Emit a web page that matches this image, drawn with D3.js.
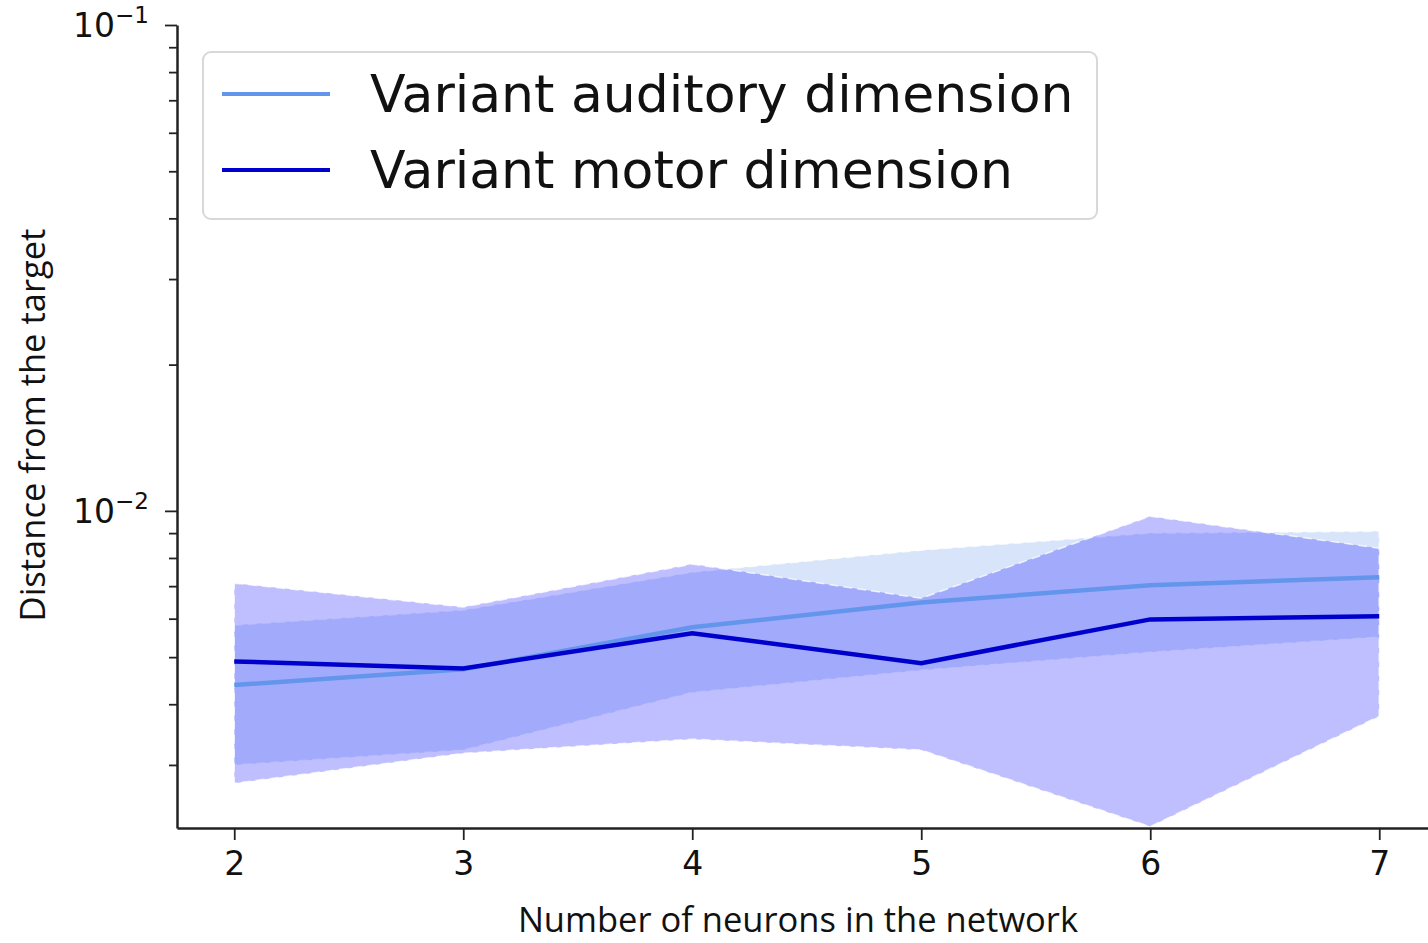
<!DOCTYPE html>
<html>
<head>
<meta charset="utf-8">
<script src="https://cdn.jsdelivr.net/npm/d3@7"></script>
<style>
  body { margin: 0; background: #fff; }
  svg { display: block; }
</style>
</head>
<body>
<div id="chart"></div>
<script>
// Data
var neurons = [2, 3, 4, 5, 6, 7];

var auditoryMean  = [0.00438, 0.00472, 0.00576, 0.00648, 0.00703, 0.00730];
var auditoryUpper = [0.00582, 0.00625, 0.00748, 0.00830, 0.00900, 0.00908];
var auditoryLower = [0.00300, 0.00322, 0.00423, 0.00470, 0.00512, 0.00550];

var motorMean  = [0.00490, 0.00474, 0.00560, 0.00486, 0.00598, 0.00607];
var motorUpper = [0.00710, 0.00634, 0.00777, 0.00661, 0.00975, 0.00838];
var motorLower = [0.00275, 0.00317, 0.00339, 0.00322, 0.00224, 0.00378];

var majorTicks = [0.01, 0.1];
var majorLabels = ["\u22122", "\u22121"];
var minorTicks = [0.003, 0.004, 0.005, 0.006, 0.007, 0.008, 0.009,
                  0.02, 0.03, 0.04, 0.05, 0.06, 0.07, 0.08, 0.09];

var seriesNames = ["Variant auditory dimension", "Variant motor dimension"];

// Set dimensions
var width = 1428, height = 943;
var plot = {left: 177, top: 25, bottom: 828, right: 1436.5};

var x = d3.scaleLinear()
    .domain([1.75, 7.25])
    .range([plot.left, plot.right]);

var y = d3.scaleLog()
    .domain([0.002225, 0.1])
    .range([plot.bottom, plot.top]);

var svg = d3.select("#chart").append("svg")
    .attr("width", width)
    .attr("height", height);

var series = [
  {mean: auditoryMean, upper: auditoryUpper, lower: auditoryLower,
   line: "#6495ed", fill: "#6495ed"},
  {mean: motorMean, upper: motorUpper, lower: motorLower,
   line: "#0000cd", fill: "#0000ff"}
];

var area = d3.area()
    .x(function(d) { return x(d.n); })
    .y0(function(d) { return y(d.lo); })
    .y1(function(d) { return y(d.hi); });

var line = d3.line()
    .x(function(d) { return x(d.n); })
    .y(function(d) { return y(d.v); });

// Bands (auditory first, then motor)
series.forEach(function(s) {
  var pts = neurons.map(function(n, i) { return {n: n, lo: s.lower[i], hi: s.upper[i]}; });
  svg.append("path")
      .attr("d", area(pts) + "Z")
      .attr("fill", s.fill)
      .attr("fill-opacity", 0.25)
      .attr("stroke", "#fff")
      .attr("stroke-opacity", 0.75)
      .attr("stroke-width", 1.5)
      .attr("stroke-dasharray", "9,5");
});

// Mean lines
series.forEach(function(s) {
  var pts = neurons.map(function(n, i) { return {n: n, v: s.mean[i]}; });
  svg.append("path")
      .attr("d", line(pts))
      .attr("fill", "none")
      .attr("stroke", s.line)
      .attr("stroke-width", 4.5);
});

// y axis: minor ticks
svg.append("g")
    .attr("transform", "translate(" + plot.left + ",0)")
    .call(d3.axisLeft(y).tickValues(minorTicks).tickSize(8).tickSizeOuter(0).tickFormat(""))
    .call(function(g) { g.select(".domain").remove(); })
    .selectAll("line").attr("stroke", "#222").attr("stroke-width", 1.8);

// y axis: major ticks and spine
var yAxis = svg.append("g")
    .attr("transform", "translate(" + plot.left + ",0)")
    .call(d3.axisLeft(y).tickValues(majorTicks).tickSize(12).tickSizeOuter(0).tickFormat(""));
yAxis.select(".domain").attr("stroke", "#222").attr("stroke-width", 2.5);
yAxis.selectAll("line").attr("stroke", "#222").attr("stroke-width", 1.8);
yAxis.selectAll(".tick").each(function(d, i) {
  var t = d3.select(this).append("text")
      .attr("x", -28)
      .attr("dy", "0.35em")
      .attr("text-anchor", "end")
      .attr("fill", "#111")
      .style("font-family", "DejaVu Sans")
      .style("font-size", "33px");
  t.append("tspan").text("10");
  t.append("tspan").attr("dy", "-0.6em").style("font-size", "23px").text(majorLabels[i]);
});

// x axis
var xAxis = svg.append("g")
    .attr("transform", "translate(0," + plot.bottom + ")")
    .call(d3.axisBottom(x).tickValues(neurons).tickFormat(d3.format("d"))
      .tickSize(12).tickSizeOuter(0).tickPadding(12));
xAxis.select(".domain").attr("stroke", "#222").attr("stroke-width", 2.5);
xAxis.selectAll("line").attr("stroke", "#222").attr("stroke-width", 1.8);
xAxis.selectAll("text")
    .attr("fill", "#111")
    .style("font-family", "DejaVu Sans")
    .style("font-size", "33px");

// Axis labels
svg.append("text")
    .attr("x", 798)
    .attr("y", 932)
    .attr("text-anchor", "middle")
    .style("font-family", "Open Sans")
    .style("font-size", "34.5px")
    .attr("fill", "#111")
    .text("Number of neurons in the network");

svg.append("text")
    .attr("transform", "rotate(-90)")
    .attr("x", -425)
    .attr("y", 45)
    .attr("text-anchor", "middle")
    .style("font-family", "Open Sans")
    .style("font-size", "34.5px")
    .attr("fill", "#111")
    .text("Distance from the target");

// Legend
var legend = svg.append("g");
legend.append("rect")
    .attr("x", 203).attr("y", 52)
    .attr("width", 894).attr("height", 167)
    .attr("rx", 8)
    .attr("fill", "#fff").attr("fill-opacity", 0.85)
    .attr("stroke", "#d8d8d8").attr("stroke-width", 2);

seriesNames.forEach(function(name, i) {
  var ly = 94 + i * 76;
  legend.append("line")
      .attr("x1", 222).attr("x2", 330)
      .attr("y1", ly).attr("y2", ly)
      .attr("stroke", series[i].line)
      .attr("stroke-width", 4);
  legend.append("text")
      .attr("x", 370).attr("y", ly + 18)
      .style("font-family", "DejaVu Sans")
      .style("font-size", "52px")
      .attr("fill", "#111")
      .text(name);
});
</script>
</body>
</html>
